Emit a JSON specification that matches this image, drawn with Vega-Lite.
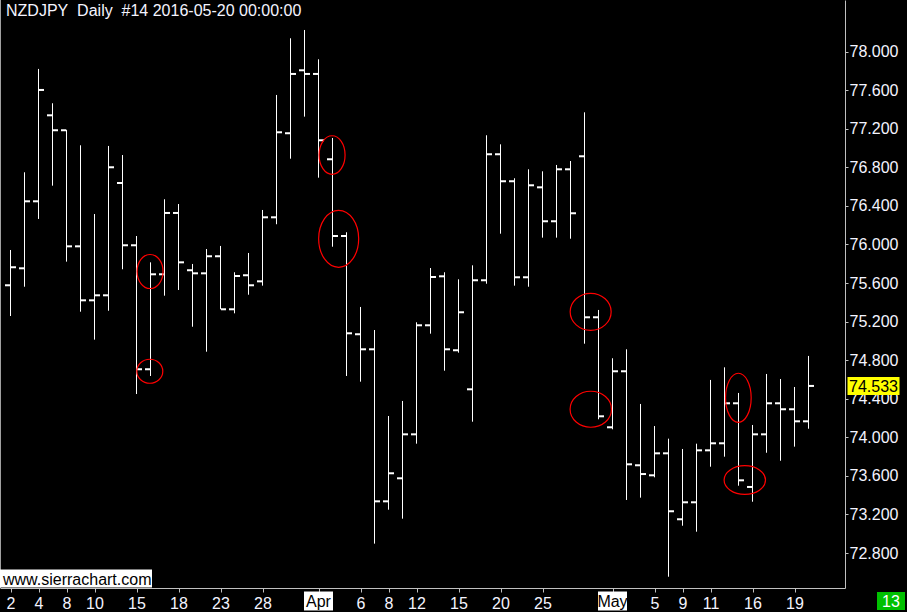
{
  "$schema": "https://vega.github.io/schema/vega-lite/v6.json",
  "width": 845,
  "height": 588,
  "autosize": {"type": "none"},
  "padding": {"left": 0, "top": 0, "right": 62, "bottom": 24},
  "background": "#000000",
  "config": {"view": {"stroke": null}},
  "datasets": {
    "bars": [
      {"d":"2016-03-02","i":0,"o":75.577,"h":75.943,"l":75.258,"c":75.764},
      {"d":"2016-03-03","i":1,"o":75.753,"h":76.749,"l":75.562,"c":76.448},
      {"d":"2016-03-04","i":2,"o":76.448,"h":77.821,"l":76.265,"c":77.603},
      {"d":"2016-03-07","i":3,"o":77.340,"h":77.465,"l":76.610,"c":77.185},
      {"d":"2016-03-08","i":4,"o":77.185,"h":77.190,"l":75.822,"c":75.981},
      {"d":"2016-03-09","i":5,"o":75.981,"h":77.029,"l":75.303,"c":75.421},
      {"d":"2016-03-10","i":6,"o":75.421,"h":76.316,"l":75.013,"c":75.473},
      {"d":"2016-03-11","i":7,"o":75.473,"h":77.022,"l":75.313,"c":76.801},
      {"d":"2016-03-14","i":8,"o":76.638,"h":76.928,"l":75.743,"c":75.992},
      {"d":"2016-03-15","i":9,"o":75.992,"h":76.088,"l":74.449,"c":74.706},
      {"d":"2016-03-16","i":10,"o":74.706,"h":75.815,"l":74.636,"c":75.691},
      {"d":"2016-03-17","i":11,"o":75.691,"h":76.469,"l":75.469,"c":76.327},
      {"d":"2016-03-18","i":12,"o":76.327,"h":76.420,"l":75.528,"c":75.815},
      {"d":"2016-03-21","i":13,"o":75.733,"h":75.798,"l":75.147,"c":75.701},
      {"d":"2016-03-22","i":14,"o":75.701,"h":75.953,"l":74.888,"c":75.878},
      {"d":"2016-03-23","i":15,"o":75.878,"h":75.985,"l":75.328,"c":75.328},
      {"d":"2016-03-24","i":16,"o":75.328,"h":75.712,"l":75.286,"c":75.673},
      {"d":"2016-03-25","i":17,"o":75.681,"h":75.912,"l":75.479,"c":75.577},
      {"d":"2016-03-28","i":18,"o":75.618,"h":76.358,"l":75.573,"c":76.282},
      {"d":"2016-03-29","i":19,"o":76.282,"h":77.551,"l":76.210,"c":77.164},
      {"d":"2016-03-30","i":20,"o":77.154,"h":78.139,"l":76.890,"c":77.769},
      {"d":"2016-03-31","i":21,"o":77.807,"h":78.225,"l":77.326,"c":77.769},
      {"d":"2016-04-01","i":22,"o":77.769,"h":77.921,"l":76.693,"c":77.081},
      {"d":"2016-04-04","i":23,"o":76.884,"h":77.105,"l":75.977,"c":76.088},
      {"d":"2016-04-05","i":24,"o":76.088,"h":76.127,"l":74.636,"c":75.079},
      {"d":"2016-04-06","i":25,"o":75.069,"h":75.352,"l":74.577,"c":74.913},
      {"d":"2016-04-07","i":26,"o":74.913,"h":75.113,"l":72.897,"c":73.336},
      {"d":"2016-04-08","i":27,"o":73.336,"h":74.221,"l":73.249,"c":73.627},
      {"d":"2016-04-11","i":28,"o":73.575,"h":74.377,"l":73.156,"c":74.031},
      {"d":"2016-04-12","i":29,"o":74.031,"h":75.193,"l":73.934,"c":75.162},
      {"d":"2016-04-13","i":30,"o":75.162,"h":75.756,"l":75.075,"c":75.663},
      {"d":"2016-04-14","i":31,"o":75.670,"h":75.712,"l":74.691,"c":74.913},
      {"d":"2016-04-15","i":32,"o":74.903,"h":75.639,"l":74.878,"c":75.297},
      {"d":"2016-04-18","i":33,"o":74.498,"h":75.784,"l":74.162,"c":75.629},
      {"d":"2016-04-19","i":34,"o":75.629,"h":77.133,"l":75.593,"c":76.936},
      {"d":"2016-04-20","i":35,"o":76.936,"h":77.039,"l":76.112,"c":76.656},
      {"d":"2016-04-21","i":36,"o":76.656,"h":76.687,"l":75.573,"c":75.660},
      {"d":"2016-04-22","i":37,"o":75.660,"h":76.780,"l":75.562,"c":76.614},
      {"d":"2016-04-25","i":38,"o":76.593,"h":76.759,"l":76.071,"c":76.241},
      {"d":"2016-04-26","i":39,"o":76.241,"h":76.825,"l":76.071,"c":76.780},
      {"d":"2016-04-27","i":40,"o":76.780,"h":76.866,"l":76.060,"c":76.324},
      {"d":"2016-04-28","i":41,"o":76.915,"h":77.371,"l":74.971,"c":75.245},
      {"d":"2016-04-29","i":42,"o":75.245,"h":75.321,"l":74.187,"c":74.218},
      {"d":"2016-05-02","i":43,"o":74.104,"h":74.820,"l":74.083,"c":74.685},
      {"d":"2016-05-03","i":44,"o":74.685,"h":74.913,"l":73.350,"c":73.720},
      {"d":"2016-05-04","i":45,"o":73.710,"h":74.346,"l":73.374,"c":73.619},
      {"d":"2016-05-05","i":46,"o":73.606,"h":74.117,"l":73.585,"c":73.834},
      {"d":"2016-05-06","i":47,"o":73.834,"h":73.986,"l":72.554,"c":73.233},
      {"d":"2016-05-09","i":48,"o":73.150,"h":73.879,"l":73.083,"c":73.326},
      {"d":"2016-05-10","i":49,"o":73.326,"h":73.934,"l":73.021,"c":73.865},
      {"d":"2016-05-11","i":50,"o":73.865,"h":74.595,"l":73.695,"c":73.938},
      {"d":"2016-05-12","i":51,"o":73.938,"h":74.726,"l":73.799,"c":74.353},
      {"d":"2016-05-13","i":52,"o":74.353,"h":74.460,"l":73.498,"c":73.554},
      {"d":"2016-05-16","i":53,"o":73.485,"h":74.128,"l":73.332,"c":74.031},
      {"d":"2016-05-17","i":54,"o":74.031,"h":74.657,"l":73.840,"c":74.353},
      {"d":"2016-05-18","i":55,"o":74.353,"h":74.605,"l":73.757,"c":74.291},
      {"d":"2016-05-19","i":56,"o":74.291,"h":74.522,"l":73.903,"c":74.166},
      {"d":"2016-05-20","i":57,"o":74.166,"h":74.844,"l":74.089,"c":74.533}
    ],
    "ell": [
      {"e":"1","i":9.97,"p":75.720},
      {"e":"2","i":9.95,"p":74.685},
      {"e":"3","i":22.97,"p":76.928},
      {"e":"4","i":23.44,"p":76.059},
      {"e":"5","i":41.44,"p":75.302},
      {"e":"6","i":41.45,"p":74.291},
      {"e":"7","i":51.99,"p":74.410},
      {"e":"8","i":52.45,"p":73.557}
    ],
    "months": [
      {"i":22,"m":"Apr"},
      {"i":43,"m":"May"}
    ]
  },
  "layer": [
    {
      "data": {"values": [{}]},
      "mark": {"type": "rule", "color": "#a0a0a0", "strokeWidth": 2},
      "encoding": {"x": {"datum": -0.75, "type": "quantitative", "scale": {"domain": [-0.75, 59.607], "nice": false, "zero": false}}}
    },
    {
      "data": {"name": "bars"},
      "mark": {"type": "rule", "color": "#ffffff", "strokeWidth": 1},
      "encoding": {
        "x": {
          "field": "i", "type": "quantitative",
          "scale": {"domain": [-0.75, 59.607], "nice": false, "zero": false},
          "axis": {
            "title": null, "grid": false,
            "values": [0,2,4,6,9,12,15,18,22,25,27,29,32,35,38,43,46,48,50,53,56],
            "labelExpr": "(datum.value == 22 || datum.value == 43) ? '' : '' + [2,3,4,7,8,9,10,11,14,15,16,17,18,21,22,23,24,25,28,29,30,31,1,4,5,6,7,8,11,12,13,14,15,18,19,20,21,22,25,26,27,28,29,2,3,4,5,6,9,10,11,12,13,16,17,18,19,20][datum.value]",
            "domainColor": "#c0c0c0", "tickColor": "#c0c0c0", "tickSize": 4,
            "labelColor": "#f4f4ff", "labelFont": "Liberation Sans", "labelFontSize": 16,
            "labelPadding": 3, "labelFlush": false, "labelOverlap": false
          }
        },
        "y": {
          "field": "l", "type": "quantitative",
          "scale": {"domain": [72.437, 78.536], "nice": false, "zero": false},
          "axis": {
            "orient": "right", "title": null, "grid": false,
            "values": [72.8,73.2,73.6,74.0,74.4,74.8,75.2,75.6,76.0,76.4,76.8,77.2,77.6,78.0],
            "format": ".3f",
            "domainColor": "#c0c0c0", "tickColor": "#c0c0c0", "tickSize": 3,
            "labelColor": "#f4f4ff", "labelFont": "Liberation Sans", "labelFontSize": 16,
            "labelPadding": 1, "labelFlush": false, "labelOverlap": false
          }
        },
        "y2": {"field": "h"}
      }
    },
    {
      "data": {"name": "bars"},
      "mark": {"type": "tick", "orient": "horizontal", "color": "#ffffff", "opacity": 1, "size": 5, "thickness": 2, "xOffset": -3},
      "encoding": {
        "x": {"field": "i", "type": "quantitative"},
        "y": {"field": "o", "type": "quantitative"}
      }
    },
    {
      "data": {"name": "bars"},
      "mark": {"type": "tick", "orient": "horizontal", "color": "#ffffff", "opacity": 1, "size": 5, "thickness": 2, "xOffset": 3},
      "encoding": {
        "x": {"field": "i", "type": "quantitative"},
        "y": {"field": "c", "type": "quantitative"}
      }
    },
    {
      "data": {"name": "ell"},
      "mark": {"type": "point", "filled": false, "color": "#ff0000", "opacity": 1, "strokeWidth": 1.2, "size": 3600},
      "encoding": {
        "x": {"field": "i", "type": "quantitative"},
        "y": {"field": "p", "type": "quantitative"},
        "shape": {
          "field": "e", "type": "nominal", "legend": null,
          "scale": {
            "domain": ["1","2","3","4","5","6","7","8"],
            "range": [
              "M-0.433,0A0.433,0.567 0 1 0 0.433,0A0.433,0.567 0 1 0 -0.433,0Z",
              "M-0.433,0A0.433,0.4 0 1 0 0.433,0A0.433,0.4 0 1 0 -0.433,0Z",
              "M-0.433,0A0.433,0.643 0 1 0 0.433,0A0.433,0.643 0 1 0 -0.433,0Z",
              "M-0.667,0A0.667,0.95 0 1 0 0.667,0A0.667,0.95 0 1 0 -0.667,0Z",
              "M-0.683,0A0.683,0.617 0 1 0 0.683,0A0.683,0.617 0 1 0 -0.683,0Z",
              "M-0.69,0A0.69,0.6 0 1 0 0.69,0A0.69,0.6 0 1 0 -0.69,0Z",
              "M-0.427,0A0.427,0.817 0 1 0 0.427,0A0.427,0.817 0 1 0 -0.427,0Z",
              "M-0.69,0A0.69,0.477 0 1 0 0.69,0A0.69,0.477 0 1 0 -0.69,0Z"
            ]
          }
        }
      }
    },
    {
      "data": {"name": "bars"},
      "transform": [{"filter": "datum.i == 57"}],
      "mark": {"type": "point", "filled": true, "color": "#ffff00", "opacity": 1, "size": 2704, "xOffset": 65, "shape": "M-1,-0.346L1,-0.346L1,0.346L-1,0.346Z"},
      "encoding": {
        "x": {"field": "i", "type": "quantitative"},
        "y": {"field": "c", "type": "quantitative"}
      }
    },
    {
      "data": {"name": "bars"},
      "transform": [{"filter": "datum.i == 57"}],
      "mark": {"type": "text", "color": "#000000", "font": "Liberation Sans", "fontSize": 16, "align": "center", "baseline": "alphabetic", "dx": 65, "dy": 6},
      "encoding": {
        "x": {"field": "i", "type": "quantitative"},
        "y": {"field": "c", "type": "quantitative"},
        "text": {"field": "c", "type": "quantitative", "format": ".3f"}
      }
    },
    {
      "data": {"name": "months"},
      "mark": {"type": "point", "filled": true, "color": "#ffffff", "opacity": 1, "size": 841, "yOffset": 13, "shape": "M-1,-0.655L1,-0.655L1,0.655L-1,0.655Z"},
      "encoding": {
        "x": {"field": "i", "type": "quantitative"},
        "y": {"datum": 72.437, "type": "quantitative"}
      }
    },
    {
      "data": {"name": "months"},
      "mark": {"type": "text", "color": "#000000", "font": "Liberation Sans", "fontSize": 16, "align": "center", "baseline": "alphabetic", "dy": 19},
      "encoding": {
        "x": {"field": "i", "type": "quantitative"},
        "y": {"datum": 72.437, "type": "quantitative"},
        "text": {"field": "m", "type": "nominal"}
      }
    },
    {
      "data": {"values": [{}]},
      "mark": {"type": "point", "filled": true, "color": "#ffffff", "opacity": 1, "size": 23104, "xOffset": 76, "yOffset": -9.5, "shape": "M-1,-0.118L1,-0.118L1,0.118L-1,0.118Z"},
      "encoding": {
        "x": {"datum": -0.75, "type": "quantitative"},
        "y": {"datum": 72.437, "type": "quantitative"}
      }
    },
    {
      "data": {"values": [{}]},
      "mark": {"type": "text", "text": "www.sierrachart.com", "color": "#000000", "font": "Liberation Sans", "fontSize": 16, "align": "left", "baseline": "alphabetic", "dx": 3, "dy": -3},
      "encoding": {
        "x": {"datum": -0.75, "type": "quantitative"},
        "y": {"datum": 72.437, "type": "quantitative"}
      }
    },
    {
      "data": {"values": [{}]},
      "mark": {"type": "text", "text": "NZDJPY\u00a0 Daily\u00a0 #14 2016-05-20 00:00:00", "color": "#f4f4ff", "font": "Liberation Sans", "fontSize": 16, "align": "left", "baseline": "alphabetic", "dx": 6, "dy": 16},
      "encoding": {
        "x": {"datum": -0.75, "type": "quantitative"},
        "y": {"datum": 78.536, "type": "quantitative"}
      }
    },
    {
      "data": {"values": [{}]},
      "mark": {"type": "point", "filled": true, "color": "#00c000", "opacity": 1, "size": 784, "xOffset": 46, "yOffset": 13, "shape": "M-1,-0.643L1,-0.643L1,0.643L-1,0.643Z"},
      "encoding": {
        "x": {"datum": 59.607, "type": "quantitative"},
        "y": {"datum": 72.437, "type": "quantitative"}
      }
    },
    {
      "data": {"values": [{}]},
      "mark": {"type": "text", "text": "13", "color": "#ffffff", "font": "Liberation Sans", "fontSize": 16, "align": "center", "baseline": "alphabetic", "dx": 46, "dy": 19},
      "encoding": {
        "x": {"datum": 59.607, "type": "quantitative"},
        "y": {"datum": 72.437, "type": "quantitative"}
      }
    }
  ]
}
